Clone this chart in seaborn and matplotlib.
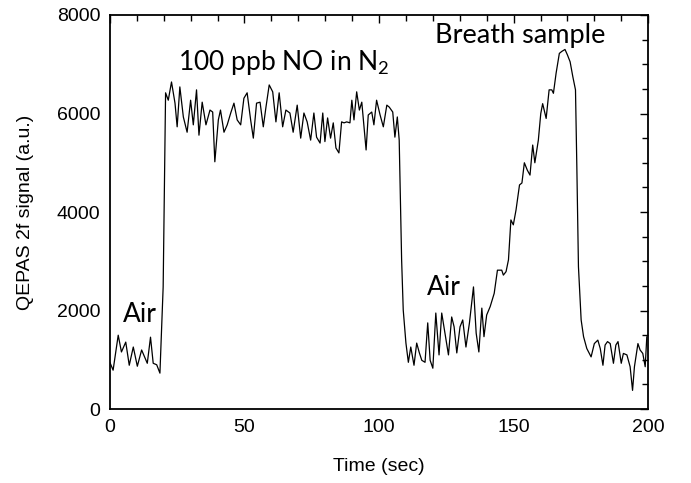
import numpy as np
import pandas as pd
import seaborn as sns
import matplotlib.pyplot as plt
from matplotlib.ticker import MultipleLocator

# time (sec) and QEPAS 2f signal
time = [0, 1.2, 3.1, 4.3, 5.9, 7.2, 8.7, 10.2, 11.8, 13.9, 15.1, 16.1, 17.4, 18.6,
        19.8, 20.7, 21.7, 22.9, 24.2, 25.0, 26.0, 27.3, 28.7, 30.0, 31.0, 32.2, 33.1,
        34.3, 35.7, 37.2, 38.2, 39.0, 40.3, 41.1, 42.4, 43.6, 44.9, 46.1, 47.3, 48.6,
        49.8, 51.0, 52.3, 53.3, 54.5, 55.8, 57.0, 58.0, 59.2, 60.5, 61.7, 62.9, 64.2,
        65.4, 66.9, 68.1, 69.6, 70.9, 72.1, 73.3, 74.6, 75.8, 76.8, 78.1, 79.1, 79.9,
        80.9, 82.0, 83.0, 84.0, 85.1, 86.1, 87.0, 88.0, 89.2, 89.9, 90.7, 91.7, 92.7,
        93.6, 94.2, 95.2, 96.0, 97.3, 98.1, 99.1, 100.4, 101.6, 102.9, 103.8, 105.1,
        105.9, 106.8, 107.5, 108.4, 109.0, 110.0, 110.9, 111.8, 113.0, 114.0, 115.0,
        115.9, 117.1, 118.1, 119.0, 120.0, 121.1, 122.3, 123.3, 124.5, 125.8, 127.0,
        127.9, 128.9, 130.1, 131.1, 132.3, 133.6, 135.1, 136.1, 137.1, 138.2, 139.0,
        140.0, 141.3, 142.8, 144.0, 145.6, 146.2, 147.2, 148.1, 149.0, 149.9, 150.9,
        152.2, 153.1, 154.0, 155.1, 156.1, 157.1, 157.9, 159.2, 160.1, 160.8, 162.1,
        163.2, 164.2, 164.8, 165.8, 167.0, 167.9, 169.1, 170.0, 171.0, 172.0, 173.0,
        173.5, 174.1, 175.1, 176.0, 177.2, 178.8, 180.0, 181.3, 182.2, 183.2, 184.0,
        184.9, 185.9, 187.1, 188.0, 188.8, 190.0, 190.8, 192.1, 193.3, 194.2, 194.9,
        196.2, 197.0, 198.0, 198.9, 199.5]
signal = [950, 790, 1500, 1160, 1360, 890, 1260, 870, 1200, 930, 1460, 930, 900, 730,
          2480, 6420, 6270, 6640, 6210, 5730, 6540, 5930, 5620, 6270, 5770, 6480, 5560,
          6230, 5770, 6070, 6030, 5020, 5870, 6070, 5620, 5770, 6010, 6210, 5870, 5770,
          6310, 6420, 5870, 5500, 6210, 6230, 5730, 6130, 6580, 6440, 5830, 6420, 5730,
          6070, 6010, 5620, 6170, 5500, 6010, 5830, 5460, 6010, 5520, 5400, 6010, 5430,
          5910, 5500, 5810, 5300, 5200, 5830, 5810, 5830, 5810, 6270, 5870, 6440, 6070,
          6230, 5870, 5260, 5970, 6030, 5770, 6270, 5970, 5730, 6170, 6130, 6030,
          5520, 5930, 5460, 3030, 2010, 1340, 950, 1260, 890, 1340, 1140,
          990, 950, 1750, 990, 830, 1950, 1100, 1950, 1540, 1100, 1870,
          1670, 1140, 1670, 1810, 1260, 1750, 2480, 1540, 1160, 2050, 1470,
          1910, 2080, 2350, 2820, 2820, 2720, 2790, 3030, 3840, 3740, 4040,
          4550, 4590, 5000, 4850, 4750, 5360, 5000, 5460, 6000, 6200, 5900,
          6480, 6480, 6410, 6820, 7220, 7260, 7300, 7190, 7050, 6750, 6480,
          4920, 2890, 1810, 1470, 1230, 1060, 1330, 1400, 1230, 890, 1300,
          1370, 1330, 930, 1300, 1370, 930, 1130, 1100, 860, 380, 860,
          1330, 1200, 1130, 860, 1470]

df = pd.DataFrame({"Time (sec)": time, "signal": signal})

sns.set_style("white")
plt.rcParams["font.family"] = ["Liberation Sans", "DejaVu Sans"]
plt.rcParams["mathtext.fontset"] = "custom"
plt.rcParams["mathtext.rm"] = "Lato"
plt.rcParams["mathtext.it"] = "Lato"

fig = plt.figure(figsize=(6.91, 4.83), dpi=100)
ax = fig.add_axes([0.159, 0.153, 0.779, 0.816])

sns.lineplot(data=df, x="Time (sec)", y="signal", sort=False, estimator=None,
             color="black", linewidth=0.9, ax=ax)

ax.set_xlim(0, 200)
ax.set_ylim(0, 8000)
ax.xaxis.set_major_locator(MultipleLocator(50))
ax.xaxis.set_minor_locator(MultipleLocator(10))
ax.yaxis.set_major_locator(MultipleLocator(2000))
ax.yaxis.set_minor_locator(MultipleLocator(500))
ax.tick_params(which="both", direction="in", top=True, right=True,
               labelsize=14, color="black", width=1, labelcolor="black")
ax.tick_params(which="major", length=6, pad=7)
ax.tick_params(which="minor", length=4)
for s in ax.spines.values():
    s.set_color("black")
    s.set_linewidth(1.3)

ax.set_xlabel("Time (sec)", fontsize=14, labelpad=16, color="black")
ax.set_ylabel("QEPAS 2f signal (a.u.)", fontsize=14, labelpad=16, color="black")

ann = ["Lato", "DejaVu Sans"]
ax.text(25.3, 6880, "100 ppb NO in N$_\\mathrm{2}$", fontsize=19, family=ann,
        ha="left", va="baseline", color="black")
ax.text(120.8, 7430, "Breath sample", fontsize=19.5, family=ann,
        ha="left", va="baseline", color="black")
ax.text(4.8, 1770, "Air", fontsize=19, family=ann, ha="left", va="baseline", color="black")
ax.text(117.8, 2320, "Air", fontsize=19, family=ann, ha="left", va="baseline", color="black")

fig.savefig("out.png", dpi=100)
